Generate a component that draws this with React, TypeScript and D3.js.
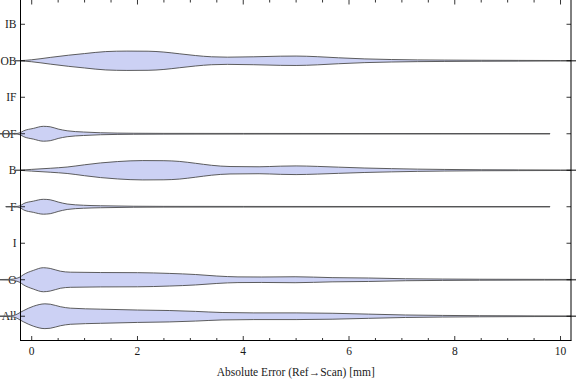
import React from "react";
import * as d3 from "d3";

type Pt = [number, number];

const categories = ["All", "O", "I", "F", "B", "OF", "IF", "OB", "IB"];
const xTickValues = [0, 2, 4, 6, 8, 10];
const xMinorTickValues = d3.range(0, 10.01, 0.5);
const xLabel = "Absolute Error (Ref\u2192Scan) [mm]";

// density profiles: [absolute error (mm), relative density]
const densityAll: Pt[] = [
  [-0.62, 0.015], [-0.4, 0.03], [-0.3, 0.12], [-0.22, 0.3], [-0.16, 0.44], [0.03, 0.8], [0.25, 1.0],
  [0.35, 0.97], [0.54, 0.77], [0.73, 0.65], [1.3, 0.57], [2.0, 0.5], [2.6, 0.46], [3.1, 0.39],
  [3.6, 0.3], [4.2, 0.27], [5.0, 0.27], [5.68, 0.24], [6.37, 0.17], [7.07, 0.1], [7.77, 0.065], [8.47, 0.045],
  [9.5, 0.028], [10.45, 0.02],
];
const densityO: Pt[] = [
  [-0.62, 0.015], [-0.4, 0.03], [-0.3, 0.1], [-0.22, 0.22], [-0.16, 0.4], [0.03, 0.75], [0.22, 0.97],
  [0.35, 0.91], [0.54, 0.69], [0.73, 0.61], [1.3, 0.58], [2.0, 0.57], [2.6, 0.51], [3.1, 0.42],
  [3.5, 0.3], [3.9, 0.23], [4.35, 0.22], [4.98, 0.24], [5.68, 0.17], [6.37, 0.14], [7.07, 0.08], [7.77, 0.055],
  [8.47, 0.04], [9.7, 0.028], [10.45, 0.02],
];
const densityF: Pt[] = [
  [-0.49, 0.015], [-0.3, 0.02], [-0.22, 0.08], [-0.15, 0.26], [0.03, 0.45], [0.22, 0.6],
  [0.35, 0.56], [0.5, 0.38], [0.67, 0.22], [0.98, 0.12], [1.3, 0.08], [1.93, 0.04], [2.5, 0.03],
  [4.0, 0.025], [6.0, 0.02], [9.8, 0.015],
];
const densityB: Pt[] = [
  [-0.32, 0.0], [-0.22, 0.01], [0.0, 0.07], [0.35, 0.16], [0.67, 0.26], [1.0, 0.44], [1.3, 0.59],
  [1.62, 0.7], [2.1, 0.78], [2.5, 0.77], [2.8, 0.71], [3.1, 0.56], [3.4, 0.4], [3.75, 0.3], [4.3, 0.28],
  [4.7, 0.33], [5.0, 0.35], [5.4, 0.31], [5.8, 0.25], [6.3, 0.18], [6.8, 0.13], [7.3, 0.09],
  [7.8, 0.065], [8.5, 0.04], [9.2, 0.03], [10.0, 0.02], [10.45, 0.02],
];
const densityOF: Pt[] = [
  [-0.62, 0.015], [-0.3, 0.02], [-0.22, 0.08], [-0.15, 0.24], [0.03, 0.43], [0.22, 0.6],
  [0.35, 0.56], [0.5, 0.38], [0.67, 0.24], [0.98, 0.14], [1.3, 0.08], [1.93, 0.04], [2.5, 0.03],
  [4.0, 0.025], [6.0, 0.02], [9.8, 0.015],
];
const densityOB: Pt[] = [
  [-0.32, 0.0], [-0.22, 0.01], [0.0, 0.08], [0.35, 0.27], [0.7, 0.45], [1.0, 0.58], [1.4, 0.74],
  [1.8, 0.78], [2.2, 0.77], [2.5, 0.7], [2.8, 0.56], [3.1, 0.42], [3.4, 0.32], [3.7, 0.29],
  [4.2, 0.32], [4.7, 0.37], [5.0, 0.38], [5.4, 0.33], [5.8, 0.24], [6.3, 0.15], [6.8, 0.1],
  [7.3, 0.07], [7.8, 0.055], [8.5, 0.04], [9.2, 0.03], [10.0, 0.02], [10.45, 0.02],
];

const violins: { cat: string; pts: Pt[] }[] = [
  { cat: "All", pts: densityAll },
  { cat: "O", pts: densityO },
  { cat: "F", pts: densityF },
  { cat: "B", pts: densityB },
  { cat: "OF", pts: densityOF },
  { cat: "OB", pts: densityOB },
];

export default function App() {
  const W = 576;
  const H = 381;
  const left = 20.5;
  const right = 571;
  const top = 0;
  const bottom = 340.5;
  const x = d3.scaleLinear().domain([-0.212, 10.198]).range([left, right]);
  const y = d3.scaleLinear().domain([0.335, 9.665]).range([bottom, top]);
  const w = d3.scaleLinear().domain([0, 1]).range([0, 12.4]);
  const font = "'Liberation Serif', 'Times New Roman', serif";

  return (
    <svg width={W} height={H} style={{ position: "absolute", left: 0, top: 0, background: "#fff" }}>
      {categories.map((c, i) => (
        <text key={c} x={16.5} y={y(i + 1)} dy="0.35em" textAnchor="end" fontFamily={font} fontSize={11.5} fill="#1a1a1a">
          {c}
        </text>
      ))}
      {violins.map((v) => {
        const i = categories.indexOf(v.cat) + 1;
        const cy = y(i);
        const area = d3
          .area<Pt>()
          .x((d) => x(d[0]))
          .y0((d) => cy + w(d[1]))
          .y1((d) => cy - w(d[1]))
          .curve(d3.curveMonotoneX);
        return (
          <path key={v.cat} d={area(v.pts) || ""} fill="rgb(204,209,244)" stroke="#4d4d4d" strokeWidth={1} strokeOpacity={0.9} />
        );
      })}
      <line x1={left} x2={left} y1={top} y2={bottom} stroke="#000" strokeWidth={1} />
      <line x1={right} x2={right} y1={top} y2={bottom} stroke="#000" strokeWidth={1} />
      <line x1={left - 0.5} x2={right + 0.5} y1={bottom} y2={bottom} stroke="#000" strokeWidth={1} />
      {xMinorTickValues.map((t) => {
        const major = xTickValues.includes(t);
        const len = major ? 4.5 : 2.5;
        const px = x(t);
        return (
          <g key={t}>
            <line x1={px} x2={px} y1={bottom} y2={bottom - len} stroke="#000" strokeWidth={0.8} />
            <line x1={px} x2={px} y1={top} y2={top + len} stroke="#000" strokeWidth={0.8} />
          </g>
        );
      })}
      {xTickValues.map((t) => (
        <text key={t} x={x(t)} y={355} textAnchor="middle" fontFamily={font} fontSize={11.5} fill="#1a1a1a">
          {t}
        </text>
      ))}
      {categories.map((c, i) => (
        <g key={c}>
          <line x1={left} x2={left + 4.5} y1={y(i + 1)} y2={y(i + 1)} stroke="#000" strokeWidth={0.8} />
          <line x1={right} x2={right - 4.5} y1={y(i + 1)} y2={y(i + 1)} stroke="#000" strokeWidth={0.8} />
        </g>
      ))}
      <text x={(left + right) / 2} y={376} textAnchor="middle" fontFamily={font} fontSize={11.5} fill="#1a1a1a">
        {xLabel}
      </text>
    </svg>
  );
}
